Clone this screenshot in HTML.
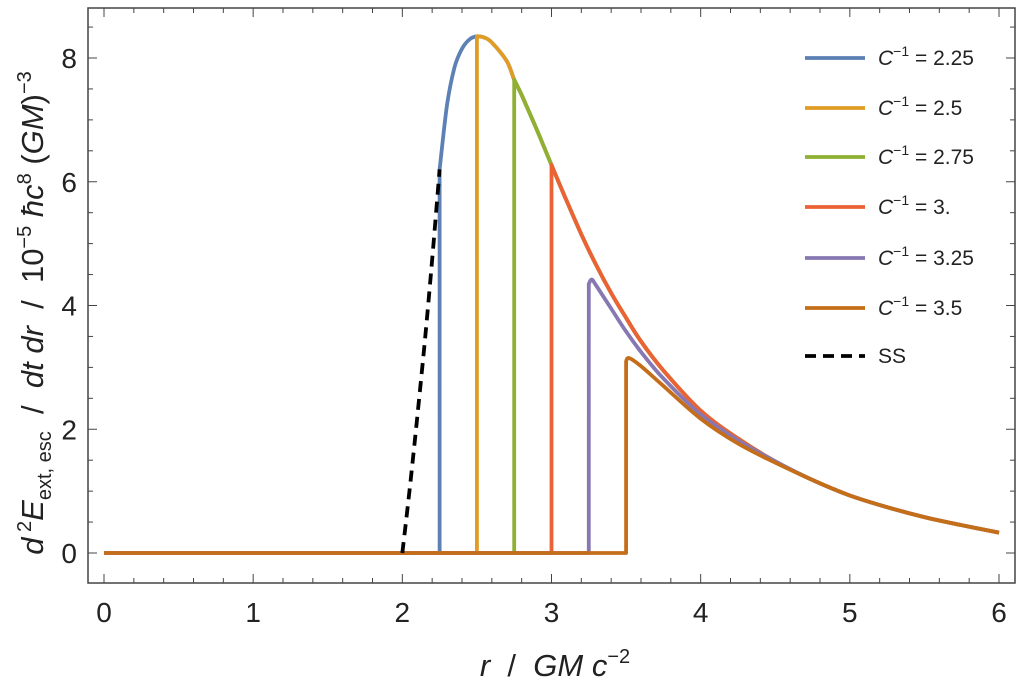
<!DOCTYPE html>
<html><head><meta charset="utf-8"><style>
body{margin:0;background:#fff;}
svg{display:block;font-family:"Liberation Sans",sans-serif;}
text{white-space:pre;}
</style></head><body>
<svg id="chart" width="1024" height="695" viewBox="0 0 1024 695">
<rect x="0" y="0" width="1024" height="695" fill="#fff"/>
<g id="plot"></g>
<g id="axes"></g>
<g id="legend"></g>
<text x="555" y="676" font-size="31" text-anchor="middle" fill="#222"><tspan font-style="italic">r</tspan>&#160; / &#160;<tspan font-style="italic">GM c</tspan><tspan font-size="20" dy="-13">−2</tspan></text>
<text transform="translate(43,313) rotate(-90)" font-size="31" text-anchor="middle" fill="#222"><tspan font-style="italic">d</tspan><tspan font-size="20" dy="-12"> 2</tspan><tspan font-style="italic" dy="12">E</tspan><tspan font-size="20" dy="8">ext, esc</tspan><tspan dy="-8">&#160; / &#160;</tspan><tspan font-style="italic">dt dr</tspan>&#160; / &#160;10<tspan font-size="20" dy="-12">−5</tspan><tspan dy="12">&#160;</tspan><tspan font-style="italic">ħc</tspan><tspan font-size="20" dy="-12">8</tspan><tspan dy="12">&#160;(</tspan><tspan font-style="italic">GM</tspan>)<tspan font-size="20" dy="-12">−3</tspan></text>
</svg>
<script>
const xTicks=[0,1,2,3,4,5,6];
const yTicks=[0,2,4,6,8];
const envR=[2.25,2.3,2.35,2.4,2.45,2.5,2.55,2.6,2.7,2.75,2.8,2.9,3.0,3.1,3.2,3.3,3.4,3.5,3.6,3.75,4,4.25,4.5,4.75,5,5.25,5.5,5.75,6];
const envY=[6.2,7.25,7.85,8.15,8.3,8.35,8.33,8.25,7.95,7.65,7.4,6.85,6.27,5.7,5.15,4.65,4.2,3.8,3.42,2.95,2.3,1.85,1.48,1.18,0.93,0.74,0.58,0.45,0.33];
const purpleR=[3.25,3.27,3.3,3.4,3.5,3.6,3.75,4,4.25];
const purpleY=[4.35,4.42,4.32,3.95,3.58,3.25,2.82,2.24,1.82];
const brownR=[3.5,3.52,3.6,3.75,4,4.25,4.5];
const brownY=[3.1,3.15,3.02,2.7,2.17,1.77,1.46];
const cutoffs=[2.25,2.5,2.75,3.0,3.25,3.5];
const labels=["2.25","2.5","2.75","3.","3.25","3.5"];
const colors=["#5e81b5","#e19c24","#8fb032","#eb6235","#8778b3","#c56e1a"];
const ssR=[2.0,2.05,2.1,2.15,2.2,2.25];
const ssY=[0,1.05,2.2,3.4,4.75,6.2];

const X0=88,X1=1015,Y0=8,Y1=583;
const sx=v=>104+v*(999-104)/6;
const sy=v=>553-v*(553-58)/8;
const NS="http://www.w3.org/2000/svg";
const plot=document.getElementById('plot'),axes=document.getElementById('axes'),legend=document.getElementById('legend');
function mk(t,a,p){const e=document.createElementNS(NS,t);for(const k in a)e.setAttribute(k,a[k]);p.appendChild(e);return e;}
function envAt(r){for(let i=0;i<envR.length-1;i++){if(r>=envR[i]&&r<=envR[i+1]){const t=(r-envR[i])/(envR[i+1]-envR[i]);return envY[i]+t*(envY[i+1]-envY[i]);}}return envY[envY.length-1];}
function smooth(P){let d='';for(let i=0;i<P.length-1;i++){const p0=P[Math.max(0,i-1)],p1=P[i],p2=P[i+1],p3=P[Math.min(P.length-1,i+2)];
  const c1=[p1[0]+(p2[0]-p0[0])/6,p1[1]+(p2[1]-p0[1])/6],c2=[p2[0]-(p3[0]-p1[0])/6,p2[1]-(p3[1]-p1[1])/6];
  d+=' C'+c1[0].toFixed(1)+','+c1[1].toFixed(1)+' '+c2[0].toFixed(1)+','+c2[1].toFixed(1)+' '+p2[0].toFixed(1)+','+p2[1].toFixed(1);}return d;}

cutoffs.forEach((c,k)=>{
  let rs,ys;
  if(k===4){rs=purpleR.slice();ys=purpleY.slice();}else if(k===5){rs=brownR.slice();ys=brownY.slice();}else{rs=[c];ys=[envAt(c)];}
  const last=rs[rs.length-1];
  envR.forEach((r,i)=>{if(r>last+1e-9){rs.push(r);ys.push(envY[i]);}});
  const P=rs.map((r,i)=>[sx(r),sy(ys[i])]);
  const d='M'+sx(0)+','+sy(0)+' L'+sx(c)+','+sy(0)+' L'+P[0][0].toFixed(1)+','+P[0][1].toFixed(1)+smooth(P);
  const p=mk('path',{d:d,fill:'none',stroke:colors[k],'stroke-width':3.8,'stroke-linejoin':'round'},plot);
  
  
});
const SP=ssR.map((r,i)=>[sx(r),sy(ssY[i])]);
const ss=mk('path',{d:'M'+SP[0][0]+','+SP[0][1]+smooth(SP),fill:'none',stroke:'#000','stroke-width':3.8,'stroke-dasharray':'11,7'},plot);



const fr=mk('rect',{x:X0,y:Y0,width:X1-X0,height:Y1-Y0,fill:'none',stroke:'#444','stroke-width':1.5},axes);


for(let v=0;v<=6.0001;v+=0.2){const x=sx(v);const major=Math.abs(v-Math.round(v))<1e-6;const L=major?9:5;
  mk('line',{x1:x,y1:Y1,x2:x,y2:Y1-L,stroke:'#444','stroke-width':1},axes);
  mk('line',{x1:x,y1:Y0,x2:x,y2:Y0+L,stroke:'#444','stroke-width':1},axes);}
for(let v=-0.5;v<=8.8;v+=0.5){const y=sy(v);if(y<Y0||y>Y1)continue;const major=Math.abs(v/2-Math.round(v/2))<1e-6;const L=major?9:5;
  mk('line',{x1:X0,y1:y,x2:X0+L,y2:y,stroke:'#444','stroke-width':1},axes);
  mk('line',{x1:X1,y1:y,x2:X1-L,y2:y,stroke:'#444','stroke-width':1},axes);}
xTicks.forEach(v=>{const t=mk('text',{x:sx(v),y:622,'font-size':28,'text-anchor':'middle',fill:'#222'},axes);t.textContent=v;
  
  });
yTicks.forEach(v=>{const t=mk('text',{x:77,y:sy(v)+10,'font-size':28,'text-anchor':'end',fill:'#222'},axes);t.textContent=v;
  
  });

const rows=[58,108,157,207,258,308,356];
labels.forEach((l,k)=>{const y=rows[k];
  const g=mk('g',{},legend);
  
  
  mk('line',{x1:805,y1:y,x2:865,y2:y,stroke:colors[k],'stroke-width':3.8},g);
  const t=mk('text',{x:878,y:y+7,'font-size':21,fill:'#222'},g);
  t.innerHTML='<tspan font-style="italic">C</tspan><tspan font-size="14" dy="-9">−1</tspan><tspan dy="9"> = '+l+'</tspan>';
});
const g=mk('g',{},legend);


mk('line',{x1:805,y1:rows[6],x2:865,y2:rows[6],stroke:'#000','stroke-width':3.8,'stroke-dasharray':'11,7'},g);
const t=mk('text',{x:878,y:rows[6]+7,'font-size':21,fill:'#222'},g);t.textContent='SS';
</script>
</body></html>
